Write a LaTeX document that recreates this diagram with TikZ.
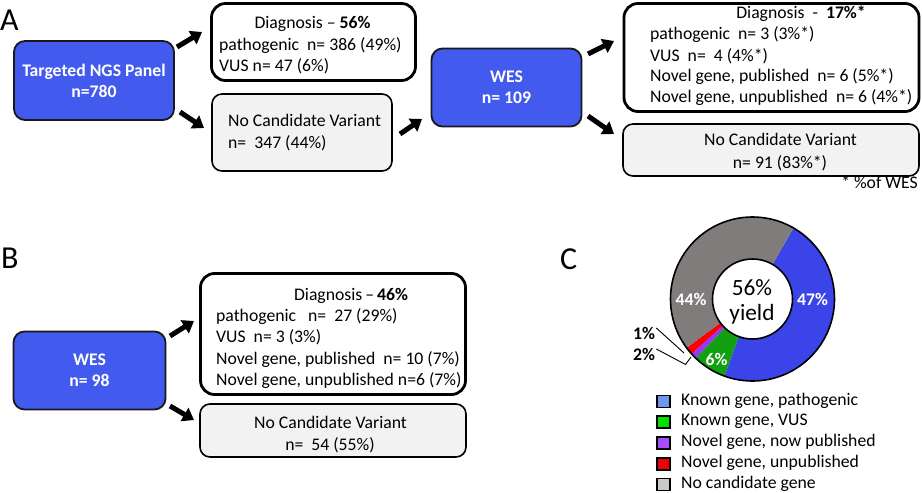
\documentclass[tikz,border=0pt]{standalone}
\usepackage{fontspec}
\setmainfont{Carlito}
\usetikzlibrary{arrows.meta}
\definecolor{boxblue}{RGB}{66,90,237}
\definecolor{ncvgrey}{RGB}{242,242,242}
\definecolor{dblue}{RGB}{59,68,232}
\definecolor{dgreen}{RGB}{17,160,17}
\definecolor{dpurple}{RGB}{153,51,255}
\definecolor{dred}{RGB}{255,0,0}
\definecolor{dgrey}{RGB}{128,124,124}
\definecolor{lblue}{RGB}{110,150,240}
\definecolor{lgreen}{RGB}{0,225,0}
\definecolor{lpurple}{RGB}{166,77,255}
\definecolor{lred}{RGB}{240,0,0}
\definecolor{lgrey}{RGB}{205,200,200}
\newcommand\myfs{\fontsize{17.7pt}{20.8pt}\selectfont}
\begin{document}
\begin{tikzpicture}[x=1pt,y=-1pt,
  txt/.style={inner sep=0pt, font=\myfs},
  bluebox/.style={draw=black!90, line width=1.8pt, fill=boxblue, rounded corners=11pt,
    inner sep=0pt, text=white, font=\myfs\bfseries, align=center},
  diagbox/.style={draw=black, line width=2.8pt, fill=white, rounded corners=14pt, inner sep=0pt},
  ncvbox/.style={draw=black, line width=1.6pt, fill=ncvgrey, rounded corners=10pt, inner sep=0pt},
  fatarrow/.style={line width=5pt, -{Triangle[length=11pt,width=15pt]}},
  panel/.style={inner sep=0pt, font=\fontsize{32pt}{36pt}\selectfont, anchor=base west},
  legsq/.style={draw=black, line width=1.5pt, minimum width=13pt, minimum height=12pt, inner sep=0pt},
  pct/.style={inner sep=0pt, font=\myfs\bfseries, anchor=base},
  leader/.style={draw=black, line width=0.9pt}
]
\useasboundingbox (0,0) rectangle (922,493);
\fill[white] (0,0) rectangle (922,493);

% ---------------- Panel A ----------------
\node[panel] (lblA) at (0,30) {A};
\node[bluebox, minimum width=160pt, minimum height=79pt] (tp) at (94,80.5) {Targeted NGS Panel\\n=780};
\node[diagbox, minimum width=204pt, minimum height=77pt] (d1) at (313.5,42) {};
\node[txt, anchor=base] (d1a) at (312.5,28.3) {Diagnosis -- \textbf{56\%}};
\node[txt, anchor=base west] (d1b) at (219,50) {pathogenic\ \ n= 386 (49\%)};
\node[txt, anchor=base west] (d1c) at (219,71) {VUS n= 47 (6\%)};
\node[ncvbox, minimum width=180pt, minimum height=77pt] (n1) at (302,132.5) {};
\node[txt, anchor=base west] (n1a) at (228,126.7) {No Candidate Variant};
\node[txt, anchor=base west] (n1b) at (228,148) {n=\ \ 347 (44\%)};

\node[bluebox, minimum width=150pt, minimum height=78pt] (wes1) at (506.5,87.5) {WES\\n= 109};
\node[diagbox, minimum width=295pt, minimum height=108pt] (d2) at (771.5,57.5) {};
\node[txt, anchor=base] (d2a) at (801,18) {Diagnosis\ \ -\ \ \textbf{17\%*}};
\node[txt, anchor=base west] (d2b) at (650,39.3) {pathogenic\ \ n= 3 (3\%*)};
\node[txt, anchor=base west] (d2c) at (650,61) {VUS\ \ n=\ \ 4 (4\%*)};
\node[txt, anchor=base west] (d2d) at (650,81.7) {Novel gene, published\ \ n= 6 (5\%*)};
\node[txt, anchor=base west] (d2e) at (650,102.7) {Novel gene, unpublished\ \ n= 6 (4\%*)};
\node[ncvbox, minimum width=296pt, minimum height=52pt] (n2) at (771,150) {};
\node[txt, anchor=base] (n2a) at (780.5,145) {No Candidate Variant};
\node[txt, anchor=base] (n2b) at (780,168) {n= 91 (83\%*)};
\node[txt, anchor=base east] (foot) at (918,188) {* \%of WES};

\coordinate (a1s) at (177,47);  \coordinate (a1e) at (202,32);
\coordinate (a2s) at (180,112); \coordinate (a2e) at (204,128);
\coordinate (a3s) at (400,134); \coordinate (a3e) at (422,119);
\coordinate (a4s) at (588,54);  \coordinate (a4e) at (614,41);
\coordinate (a5s) at (588,116); \coordinate (a5e) at (614,134);
\draw[fatarrow] (a1s) -- (a1e);
\draw[fatarrow] (a2s) -- (a2e);
\draw[fatarrow] (a3s) -- (a3e);
\draw[fatarrow] (a4s) -- (a4e);
\draw[fatarrow] (a5s) -- (a5e);

% ---------------- Panel B ----------------
\node[panel] (lblB) at (1,268) {B};
\node[bluebox, minimum width=152pt, minimum height=78pt] (wesB) at (89.5,370.5) {WES\\n= 98};
\node[diagbox, minimum width=265pt, minimum height=121pt] (dB) at (333,334) {};
\node[txt, anchor=base] (dBa) at (351,300) {Diagnosis\,--\,\textbf{46\%}};
\node[txt, anchor=base west] (dBb) at (216,321.7) {pathogenic\ \ \ n=\ \ 27 (29\%)};
\node[txt, anchor=base west] (dBc) at (216,342.7) {VUS\ \ n= 3 (3\%)};
\node[txt, anchor=base west] (dBd) at (216,364) {Novel gene, published\ \ n= 10 (7\%)};
\node[txt, anchor=base west] (dBe) at (216,385) {Novel gene, unpublished n=6 (7\%)};
\node[ncvbox, minimum width=266pt, minimum height=53pt] (nB) at (333,430.5) {};
\node[txt, anchor=base] (nBa) at (330.5,428.3) {No Candidate Variant};
\node[txt, anchor=base] (nBb) at (330,450) {n=\ \ 54 (55\%)};

\coordinate (a6s) at (170,336); \coordinate (a6e) at (194,321);
\coordinate (a7s) at (170,406); \coordinate (a7e) at (194,420);
\draw[fatarrow] (a6s) -- (a6e);
\draw[fatarrow] (a7s) -- (a7e);

% ---------------- Panel C ----------------
\node[panel] (lblC) at (560,269) {C};
\coordinate (dc) at (752.5,299);
\fill[dblue] ([shift={(60:82pt)}]dc) arc[start angle=60,end angle=-110,radius=82pt]
   -- ([shift={(-110:40pt)}]dc) arc[start angle=-110,end angle=60,radius=40pt] -- cycle;
\fill[dgreen] ([shift={(-110:82pt)}]dc) arc[start angle=-110,end angle=-134,radius=82pt]
   -- ([shift={(-134:40pt)}]dc) arc[start angle=-134,end angle=-110,radius=40pt] -- cycle;
\fill[dpurple] ([shift={(-134:82pt)}]dc) arc[start angle=-134,end angle=-138,radius=82pt]
   -- ([shift={(-138:40pt)}]dc) arc[start angle=-138,end angle=-134,radius=40pt] -- cycle;
\fill[dred] ([shift={(-138:82pt)}]dc) arc[start angle=-138,end angle=-143.5,radius=82pt]
   -- ([shift={(-143.5:40pt)}]dc) arc[start angle=-143.5,end angle=-138,radius=40pt] -- cycle;
\fill[dgrey] ([shift={(-143.5:82pt)}]dc) arc[start angle=-143.5,end angle=-300,radius=82pt]
   -- ([shift={(60:40pt)}]dc) arc[start angle=60,end angle=-143.5,radius=40pt] -- cycle;
\draw[line width=1.6pt] (dc) circle[radius=82pt];
\draw[line width=1.6pt, fill=white] (dc) circle[radius=40pt];
\node[inner sep=0pt, anchor=base, font=\fontsize{23.3pt}{25pt}\selectfont] (y1) at (752,295) {56\%};
\node[inner sep=0pt, anchor=base, font=\fontsize{23.3pt}{25pt}\selectfont] (y2) at (752,320) {yield};
\node[pct, text=white] (p47) at (812.5,305) {47\%};
\node[pct, text=white] (p44) at (691,305) {44\%};
\node[pct, text=white] (p6) at (716.5,365) {6\%};
\node[pct, anchor=base west] (p1) at (633,339) {1\%};
\node[pct, anchor=base west] (p2) at (633,360) {2\%};
\coordinate (l1e) at (684,353);
\coordinate (l2m) at (685.5,364.5);
\coordinate (l2e) at (691,357);
\draw[leader] (p1.east) ++(1,-5) -- (l1e);
\draw[leader] (p2.east) ++(1,-5) -- (l2m) -- (l2e);

% legend
\node[legsq, fill=lblue]   (s1) at (663.5,401.5) {};
\node[legsq, fill=lgreen]  (s2) at (663.5,422) {};
\node[legsq, fill=lpurple] (s3) at (663.5,443) {};
\node[legsq, fill=lred]    (s4) at (663.5,464) {};
\node[legsq, fill=lgrey]   (s5) at (663.5,484.5) {};
\node[txt, anchor=base west] (t1) at (681,405) {Known gene, pathogenic};
\node[txt, anchor=base west] (t2) at (681,425.7) {Known gene, VUS};
\node[txt, anchor=base west] (t3) at (681,446.7) {Novel gene, now published};
\node[txt, anchor=base west] (t4) at (681,467.7) {Novel gene, unpublished};
\node[txt, anchor=base west] (t5) at (681,488.3) {No candidate gene};
\end{tikzpicture}
\end{document}
